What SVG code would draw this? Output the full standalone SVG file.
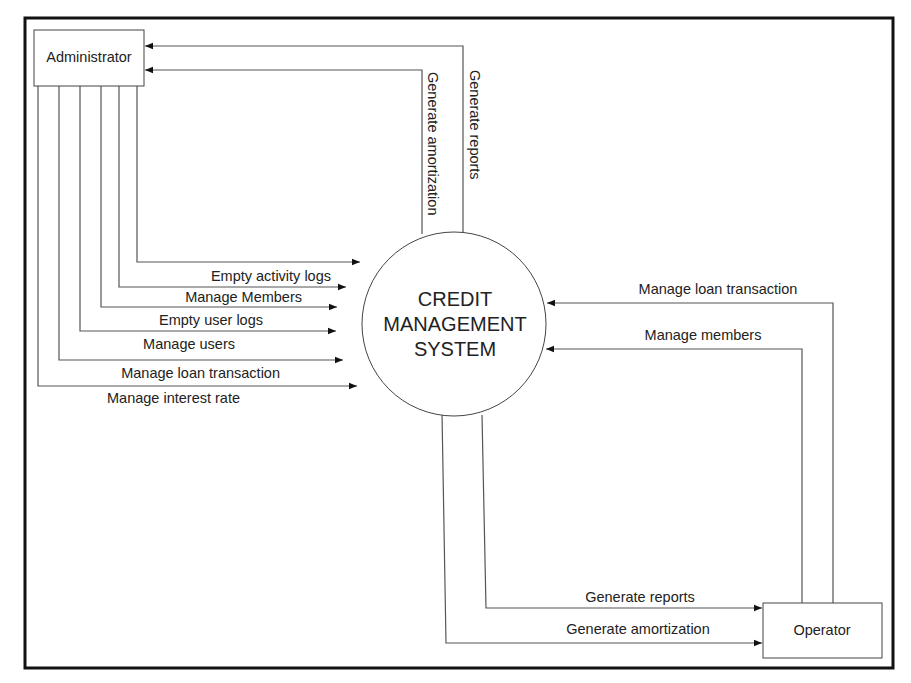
<svg xmlns="http://www.w3.org/2000/svg" width="911" height="683" viewBox="0 0 911 683">
<style>
text{font-family:"Liberation Sans",Arial,sans-serif;fill:#222;font-size:14.5px}
text.big{font-size:20px}
.c{fill:none;stroke:#555;stroke-width:1.2}
.n{fill:#fff;stroke:#444;stroke-width:1}
</style>
<defs><marker id="a" viewBox="0 0 10 10" refX="10" refY="5" markerWidth="10" markerHeight="8" markerUnits="userSpaceOnUse" orient="auto"><path d="M0,1 L10,5 L0,9 z" fill="#111"/></marker></defs>
<rect x="25" y="18" width="868" height="650" fill="#fff" stroke="#111" stroke-width="3"/>
<g id="connectors">
<polyline class="c" marker-end="url(#a)" points="463,240 463,46 145,46"/>
<polyline class="c" marker-end="url(#a)" points="422,234 422,70 145,70"/>
<polyline class="c" marker-end="url(#a)" points="137,86 137,262 360,262"/>
<polyline class="c" marker-end="url(#a)" points="119,86 119,287 346,287"/>
<polyline class="c" marker-end="url(#a)" points="101,86 101,307 337,307"/>
<polyline class="c" marker-end="url(#a)" points="80,86 80,331 336,331"/>
<polyline class="c" marker-end="url(#a)" points="59,86 59,360 343,360"/>
<polyline class="c" marker-end="url(#a)" points="38,86 38,386 357,386"/>
<polyline class="c" marker-end="url(#a)" points="833,603 833,303 547,303"/>
<polyline class="c" marker-end="url(#a)" points="802,603 802,349 546,349"/>
<polyline class="c" marker-end="url(#a)" points="482,415 486,608 762,608"/>
<polyline class="c" marker-end="url(#a)" points="442,413 446,643 762,643"/>
<text transform="translate(428,72) rotate(90)">Generate amortization</text>
<text transform="translate(470,70) rotate(90)">Generate reports</text>
<text x="331" y="281" text-anchor="end">Empty activity logs</text>
<text x="302" y="302" text-anchor="end">Manage Members</text>
<text x="263" y="325" text-anchor="end">Empty user logs</text>
<text x="235" y="349" text-anchor="end">Manage users</text>
<text x="280" y="378" text-anchor="end">Manage loan transaction</text>
<text x="240" y="403" text-anchor="end">Manage interest rate</text>
<text x="718" y="294" text-anchor="middle">Manage loan transaction</text>
<text x="703" y="340" text-anchor="middle">Manage members</text>
<text x="640" y="602" text-anchor="middle">Generate reports</text>
<text x="638" y="634" text-anchor="middle">Generate amortization</text>
</g>
<g id="administrator"><rect class="n" x="34" y="30" width="110" height="56"/><text x="89" y="62" text-anchor="middle">Administrator</text></g>
<g id="cms"><circle class="n" cx="454" cy="324" r="92"/>
<text class="big" x="455" y="306" text-anchor="middle">CREDIT</text>
<text class="big" x="455" y="331" text-anchor="middle">MANAGEMENT</text>
<text class="big" x="455" y="356" text-anchor="middle">SYSTEM</text></g>
<g id="operator"><rect class="n" x="763" y="603" width="119" height="55"/><text x="822" y="635" text-anchor="middle">Operator</text></g>
</svg>
